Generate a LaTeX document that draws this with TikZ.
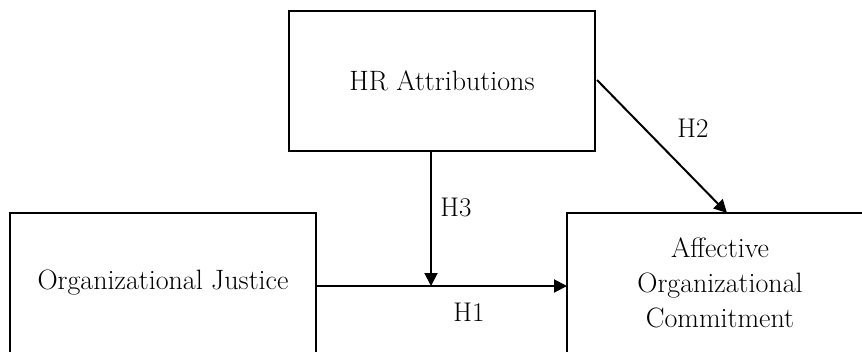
\documentclass[tikz,border=0pt]{standalone}
\usepackage{fontspec}
\setmainfont{Latin Modern Roman}
\usetikzlibrary{arrows.meta}
\begin{document}
\begin{tikzpicture}[x=1pt,y=-1pt,
  box/.style={draw, line width=2pt, minimum width=306pt, minimum height=140pt, inner sep=0pt, align=center, font=\fontsize{28}{35}\selectfont},
  lbl/.style={font=\fontsize{27}{30}\selectfont, inner sep=0pt},
  conn/.style={line width=2pt, -{Triangle[length=13pt,width=13pt]}}]
\useasboundingbox (0,0) rectangle (862,351);
\clip (0,0) rectangle (862,351);
\node[box] (hr) at (442,81) {HR Attributions};
\node[box] (oj) at (163,283) {Organizational Justice};
\node[box] (ac) at (720,283) {Affective\\Organizational\\Commitment};
\coordinate (hrs) at (597,80);
\coordinate (act) at (727,213);
\coordinate (hrb) at (431,151);
\coordinate (mod) at (431,286);
\coordinate (ojr) at (316,286);
\coordinate (acl) at (567,286);
\draw[conn] (ojr) -- (acl);
\draw[conn] (hrb) -- (mod);
\draw[conn] (hrs) -- (act);
\node[lbl] (h1) at (469,312) {H1};
\node[lbl] (h2) at (693,128) {H2};
\node[lbl] (h3) at (456,207) {H3};
\end{tikzpicture}
\end{document}
